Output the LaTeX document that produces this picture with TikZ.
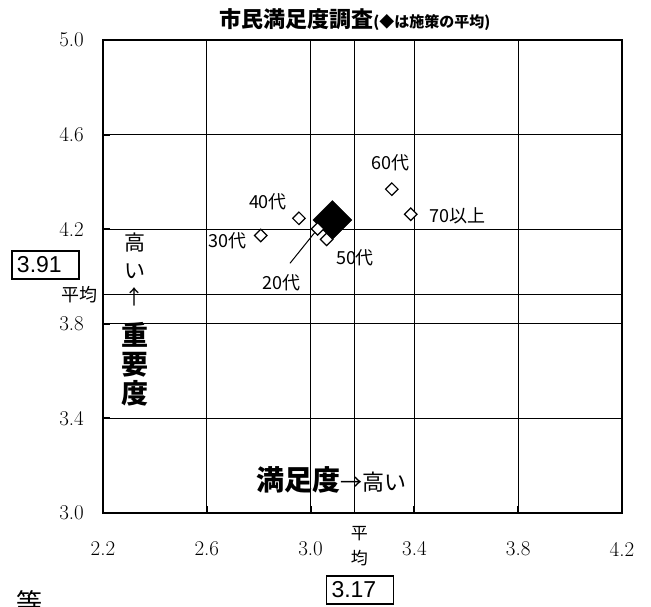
\documentclass[tikz,border=0pt]{standalone}
\usepackage{fontspec}
\usetikzlibrary{shapes.geometric}
\newfontfamily\jp{Noto Sans CJK JP}
\newfontfamily\arial{Liberation Sans}

\begin{document}
\begin{tikzpicture}[x=259.5pt, y=236.5pt,
    dot/.style={draw, diamond, fill=white, line width=1.2pt, minimum size=13pt, inner sep=0pt},
    avgdot/.style={draw, diamond, fill=black, minimum size=39pt, inner sep=0pt},
    lab/.style={font=\jp\fontsize{18}{18}\selectfont, inner sep=0pt},
    num/.style={font=\fontsize{21}{21}\selectfont, inner sep=0pt},
    valbox/.style={draw, line width=1.5pt, font=\arial\fontsize{23}{23}\selectfont, text width=57pt, align=left, inner xsep=5pt, inner ysep=0pt, minimum height=28pt},
    gline/.style={line width=1pt},
    plotframe/.style={line width=2pt},
    tickmk/.style={line width=2pt}]

    \useasboundingbox (1.8031,2.6067) rectangle (4.3118,5.1691);

    % Title
    \node[font=\jp\bfseries, inner sep=0pt] (title) at (3.171,5.0846)
        {{\fontsize{22}{22}\selectfont 市民満足度調査}{\fontsize{15}{15}\selectfont (◆は施策の平均)}};

    % Grid lines
    \draw[gline] (2.6,3.0) -- (2.6,5.0);
    \draw[gline] (3.0,3.0) -- (3.0,5.0);
    \draw[gline] (3.4,3.0) -- (3.4,5.0);
    \draw[gline] (3.8,3.0) -- (3.8,5.0);
    \draw[gline] (2.2,3.4) -- (4.2,3.4);
    \draw[gline] (2.2,3.8) -- (4.2,3.8);
    \draw[gline] (2.2,4.2) -- (4.2,4.2);
    \draw[gline] (2.2,4.6) -- (4.2,4.6);

    % Average lines
    \draw[gline] (3.171,3.0) -- (3.171,5.0);
    \draw[gline] (2.2,3.925) -- (4.2,3.925);

    % Frame and ticks
    \draw[plotframe] (2.2,3.0) rectangle (4.2,5.0);
    \draw[tickmk] (2.2,3.4) -- ++(7pt,0);
    \draw[tickmk] (2.2,3.8) -- ++(7pt,0);
    \draw[tickmk] (2.2,4.2) -- ++(7pt,0);
    \draw[tickmk] (2.2,4.6) -- ++(7pt,0);
    \draw[tickmk] (2.6,3.0) -- ++(0,7pt);
    \draw[tickmk] (3.0,3.0) -- ++(0,7pt);
    \draw[tickmk] (3.4,3.0) -- ++(0,7pt);
    \draw[tickmk] (3.8,3.0) -- ++(0,7pt);

    % Axis values
    \node[num, anchor=east] (y50) at ([xshift=-19pt]2.2,5.0) {5.0};
    \node[num, anchor=east] (y46) at ([xshift=-19pt]2.2,4.6) {4.6};
    \node[num, anchor=east] (y42) at ([xshift=-19pt]2.2,4.2) {4.2};
    \node[num, anchor=east] (y38) at ([xshift=-19pt]2.2,3.8) {3.8};
    \node[num, anchor=east] (y34) at ([xshift=-19pt]2.2,3.4) {3.4};
    \node[num, anchor=east] (y30) at ([xshift=-19pt]2.2,3.0) {3.0};
    \node[num] (x22) at ([yshift=-36pt]2.2,3.0) {2.2};
    \node[num] (x26) at ([yshift=-36pt]2.6,3.0) {2.6};
    \node[num] (x30) at ([yshift=-36pt]3.0,3.0) {3.0};
    \node[num] (x34) at ([yshift=-36pt]3.4,3.0) {3.4};
    \node[num] (x38) at ([yshift=-36pt]3.8,3.0) {3.8};
    \node[num] (x42) at ([yshift=-36pt]4.2,3.0) {4.2};

    % Averages
    \node[lab, anchor=east] (avgy) at ([xshift=-5pt]2.2,3.925) {平均};
    \node[valbox] (vy) at (1.9784,4.0486) {3.91};
    \node[lab, align=center, font=\jp\fontsize{17}{25.7}\selectfont] (avgx) at (3.1877,2.86) {平\\均};
    \node[valbox] (vx) at (3.1904,2.6744) {3.17};

    % Axis titles
    \node[align=center, inner sep=0pt, font=\jp\fontsize{21}{28}\selectfont] (hiy) at (2.3233,4.0873) {高\\い};
    \node[inner sep=0pt, font=\jp\fontsize{20}{20}\selectfont] (upy) at (2.3233,3.912) {↑};
    \node[align=center, inner sep=0pt, font=\jp\bfseries\fontsize{27}{29}\selectfont] (imp) at (2.3233,3.6301) {重\\要\\度};
    \node[anchor=west, inner sep=0pt, font=\jp] (sat) at (2.7923,3.1395)
        {{\bfseries\fontsize{28}{28}\selectfont 満足度}{\fontsize{22}{22}\selectfont →高い}};

    % Points
    \node[avgdot] (avg) at (3.084,4.239) {};
    \coordinate (c20) at (2.9206,4.0558);
    \draw[line width=1pt] (c20) -- (3.027,4.201);
    \node[dot] (p20) at (3.027,4.201) {};
    \node[dot] (p30) at (2.808,4.173) {};
    \node[dot] (p40) at (2.955,4.246) {};
    \node[dot] (p50) at (3.062,4.157) {};
    \node[dot] (p60) at (3.313,4.369) {};
    \node[dot] (p70) at (3.386,4.263) {};

    % Point labels
    \node[lab] (l20) at (2.8886,3.9738) {20代};
    \node[lab, anchor=east] (l30) at (2.7538,4.1514) {30代};
    \node[lab] (l40) at (2.8358,4.3163) {40代};
    \node[lab] (l50) at (3.1711,4.0770) {50代};
    \node[lab] (l60) at (3.306,4.480) {60代};
    \node[lab, anchor=west] (l70) at (3.4563,4.2558) {70以上};

    % Cut-off note
    \node[font=\jp\fontsize{26}{26}\selectfont, inner sep=0pt] (note) at (1.9186,2.6195) {等};

\end{tikzpicture}
\end{document}
